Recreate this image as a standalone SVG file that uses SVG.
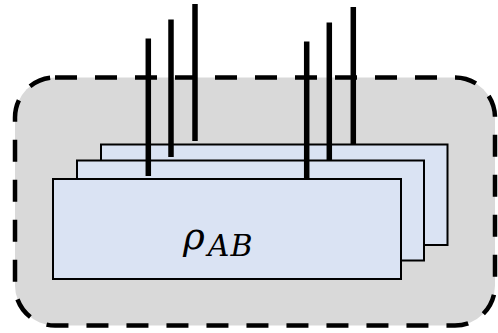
<svg xmlns="http://www.w3.org/2000/svg" width="498" height="333" viewBox="0 0 498 333">
<style>
.card{fill:#dae3f3;stroke:#000;stroke-width:2}
.wire{stroke:#000;stroke-width:5.5;fill:none}
.lbl{font-family:"DejaVu Serif","Liberation Serif",serif;font-style:italic;fill:#000}
</style>
<g id="container">
<rect x="15" y="77.5" width="480" height="248" rx="40" ry="40" fill="#d9d9d9" stroke="#000" stroke-width="4.5" stroke-dasharray="22 18"/>
</g>
<g id="card-back"><rect class="card" x="101" y="144.5" width="346.5" height="100.5"/></g>
<g id="wires-back">
<line class="wire" x1="195" y1="4" x2="195" y2="141"/>
<line class="wire" x1="353.3" y1="7" x2="353.3" y2="144"/>
</g>
<g id="card-middle"><rect class="card" x="77" y="160.5" width="347" height="100"/></g>
<g id="wires-middle">
<line class="wire" x1="171" y1="19.5" x2="171" y2="157"/>
<line class="wire" x1="329.3" y1="22.5" x2="329.3" y2="160"/>
</g>
<g id="card-front"><rect class="card" x="53" y="179" width="348" height="100"/>
<text class="lbl" x="183" y="249" font-size="37">ρ<tspan font-size="30" dx="3" dy="7" letter-spacing="1">AB</tspan></text>
</g>
<g id="wires-front">
<line class="wire" x1="148.3" y1="38.5" x2="148.3" y2="176"/>
<line class="wire" x1="306.7" y1="41.5" x2="306.7" y2="178"/>
</g>
</svg>
